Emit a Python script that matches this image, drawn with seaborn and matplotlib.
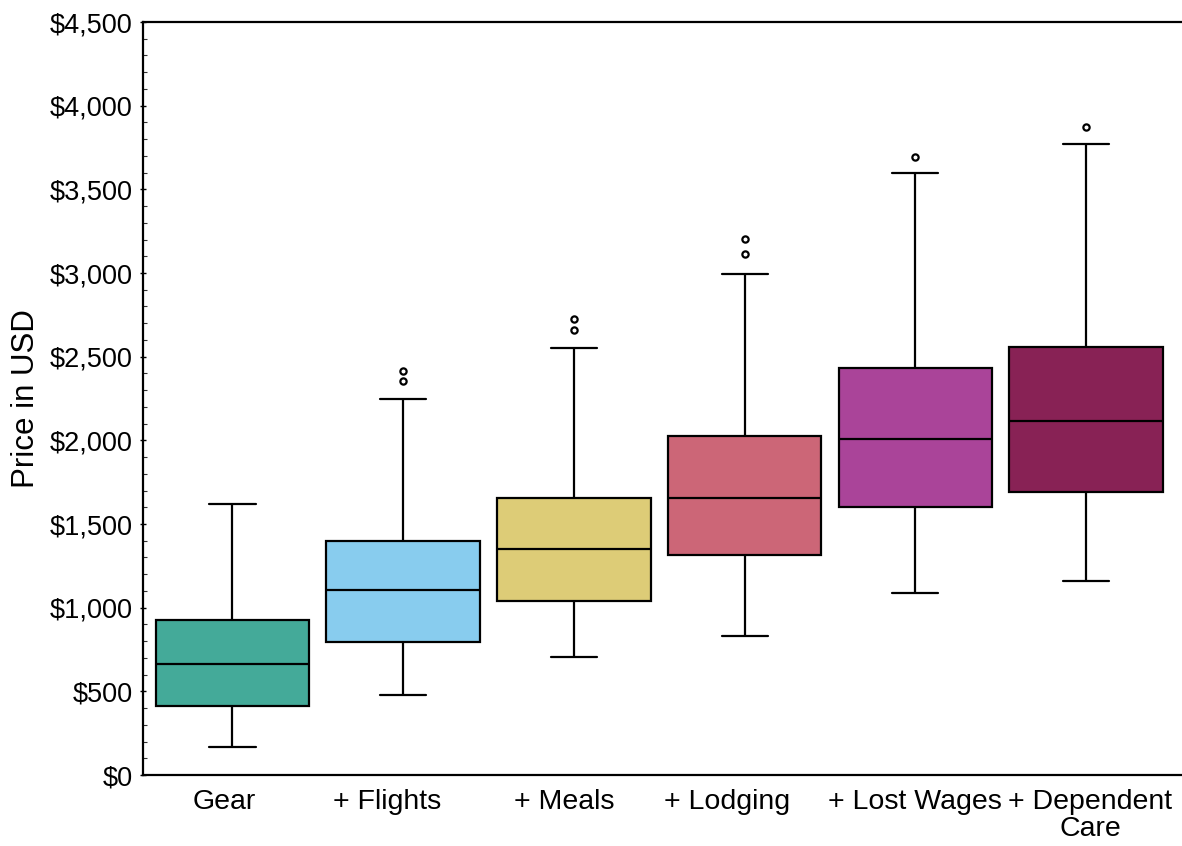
import numpy as np
import matplotlib
matplotlib.use("Agg")
import matplotlib.pyplot as plt
import matplotlib.transforms as mtransforms
import pandas as pd
import seaborn as sns
from matplotlib.ticker import MultipleLocator, FuncFormatter

# categories on the x axis (tick labels)
categories = ["Gear", "+ Flights", "+ Meals", "+ Lodging", "+ Lost Wages", "+ Dependent\nCare"]

# price samples per category (USD), 13 values each so the quartiles sit on samples
gear = [170, 300, 380, 412, 520, 600, 665, 750, 850, 927, 1100, 1350, 1620]
flights = [478, 600, 700, 795, 900, 1000, 1106, 1200, 1300, 1400, 2245, 2355, 2415]
meals = [703, 850, 950, 1040, 1150, 1250, 1351, 1450, 1550, 1657, 2550, 2660, 2725]
lodging = [833, 1000, 1150, 1315, 1450, 1550, 1656, 1800, 1900, 2025, 2995, 3115, 3205]
lost_wages = [1086, 1250, 1400, 1600, 1750, 1900, 2006, 2150, 2300, 2435, 3000, 3600, 3695]
dependent_care = [1161, 1350, 1500, 1694, 1850, 2000, 2116, 2250, 2400, 2560, 3200, 3770, 3870]

colors = ["#44AA99", "#88CCEE", "#DDCC77", "#CC6677", "#AA4499", "#882255"]

samples = [gear, flights, meals, lodging, lost_wages, dependent_care]
rows = []
for cat, vals in zip(categories, samples):
    for v in vals:
        rows.append({"category": cat, "price": v})
df = pd.DataFrame(rows)

sns.set_style("white")
plt.rcParams["font.family"] = ["Liberation Sans", "DejaVu Sans"]

fig = plt.figure(figsize=(11.82, 8.46), dpi=100)
ax = fig.add_axes([143 / 1182, 1 - 775 / 846, 1 - 143 / 1182, (775 - 22) / 846])

sns.boxplot(data=df, x="category", y="price", hue="category", order=categories,
            palette=colors, saturation=1, width=0.9, linecolor="black",
            linewidth=1.6, whis=1.5, legend=False, ax=ax, capwidths=0.27,
            flierprops=dict(marker="o", markerfacecolor="white",
                            markeredgecolor="black", markersize=4.5,
                            markeredgewidth=1.6))

ax.set_xlim(-0.524, 5.562)
ax.set_ylim(0, 4500)
ax.yaxis.set_major_locator(MultipleLocator(500))
ax.yaxis.set_minor_locator(MultipleLocator(100))
ax.yaxis.set_major_formatter(FuncFormatter(lambda v, p: "${:,.0f}".format(v)))

for side in ["left", "bottom", "top"]:
    ax.spines[side].set_visible(True)
    ax.spines[side].set_color("black")
    ax.spines[side].set_linewidth(1.6)
ax.spines["right"].set_visible(False)

ax.tick_params(axis="y", which="major", direction="inout", length=5, width=1,
               labelsize=19.5, pad=5, colors="black", left=True)
ax.tick_params(axis="y", which="minor", direction="in", length=3, width=0.8,
               left=True, color="#333333")
ax.tick_params(axis="x", which="both", length=0, labelsize=20.5, pad=10, colors="black")

# the labels in the original are not quite centred under the boxes
label_shift_px = [-8, -16, -10, -18, 0, 4]
for lab, dx in zip(ax.get_xticklabels(), label_shift_px):
    lab.set_linespacing(1.05)
    lab.set_transform(lab.get_transform() +
                      mtransforms.ScaledTranslation(dx / 100, 0, fig.dpi_scale_trans))

ax.set_xlabel("")
ax.set_ylabel("Price in USD", fontsize=22.5, color="black", labelpad=6)

fig.savefig("out.png", dpi=100)
